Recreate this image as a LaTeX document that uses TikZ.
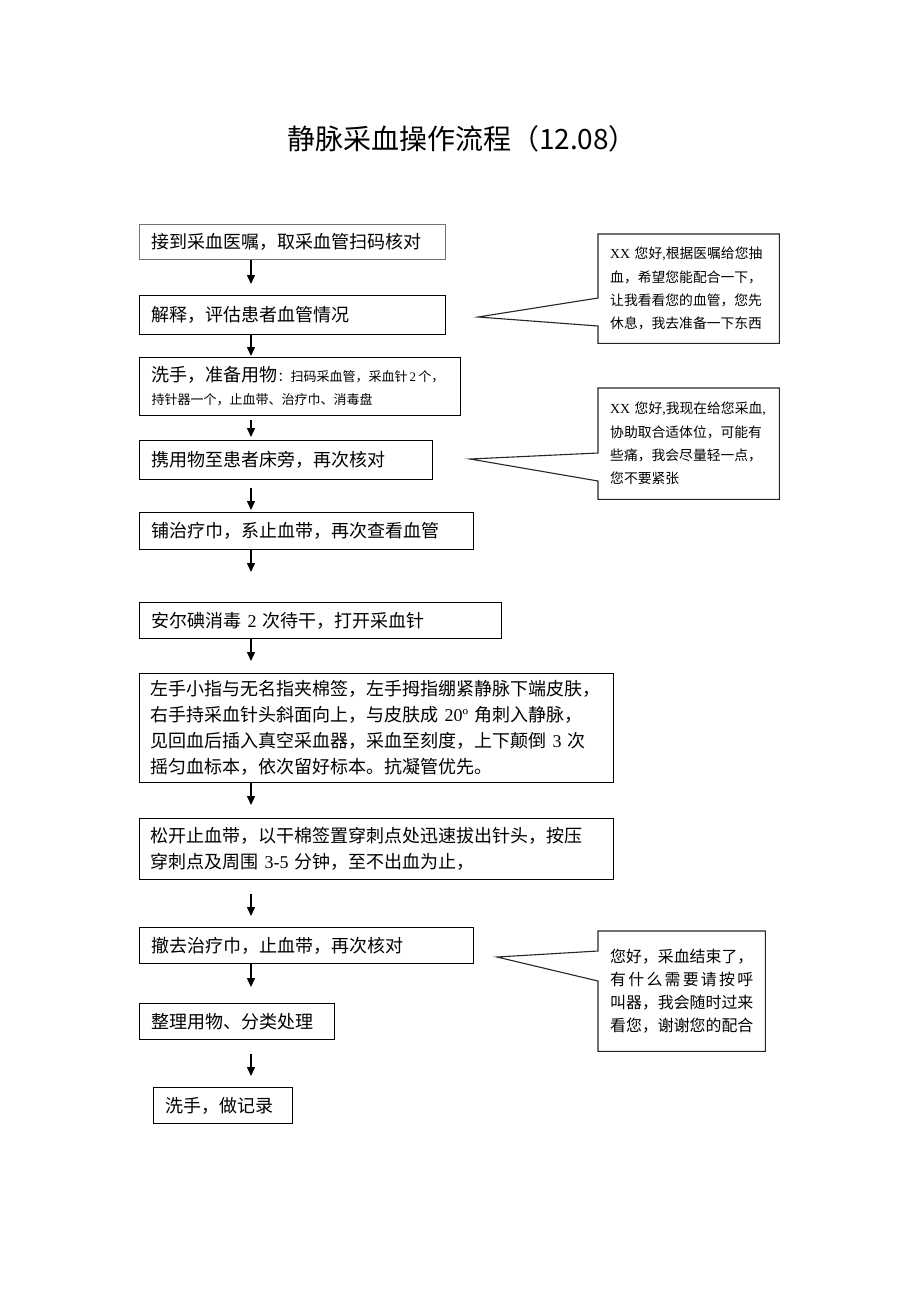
\documentclass[tikz,border=0pt]{standalone}
\usepackage{fontspec}
\setmainfont{Noto Sans CJK SC}
\newfontfamily\lat{Liberation Serif}
\usetikzlibrary{arrows.meta}

\begin{document}
\begin{tikzpicture}[x=1pt,y=-1pt,
    stepbox/.style={draw, line width=1.1pt, anchor=north west, inner xsep=12pt,
      inner ysep=0pt, align=left, font=\fontsize{18}{26}\selectfont},
    saybox/.style={anchor=north west, inner xsep=12pt, inner ysep=0pt, align=left,
      font=\fontsize{13.8}{23.3}\selectfont},
    say/.style={draw=black!85, line width=1.1pt},
    arr/.style={line width=1.4pt, -{Triangle[length=9pt,width=8pt]}}]
    \useasboundingbox (0,0) rectangle (920,1302);

    \node (title) at (462,139) {\fontsize{28}{30}\selectfont 静脉采血操作流程（12.08）};

    \node[stepbox, draw=black!55, line width=0.7pt, text width=282pt, minimum height=35pt] (n1) at (139,224)
        {接到采血医嘱，取采血管扫码核对};
    \node[stepbox, text width=282pt, minimum height=39pt] (n2) at (139,295)
        {解释，评估患者血管情况};
    \node[stepbox, text width=297pt, minimum height=58pt, font=\fontsize{18}{23}\selectfont] (n3) at (139,357)
        {\mbox{洗手，准备用物{\fontsize{13}{23}\selectfont ：扫码采血管，采血针\,{\lat 2}\,个，}}\\
         {\fontsize{13}{23}\selectfont 持针器一个，止血带、治疗巾、消毒盘}};
    \node[stepbox, text width=269pt, minimum height=39pt] (n4) at (139,440)
        {携用物至患者床旁，再次核对};
    \node[stepbox, text width=310pt, minimum height=37pt] (n5) at (139,512)
        {铺治疗巾，系止血带，再次查看血管};
    \node[stepbox, text width=338pt, minimum height=36pt] (n6) at (139,602)
        {安尔碘消毒 {\lat 2} 次待干，打开采血针};
    \node[stepbox, text width=452pt, inner xsep=11pt, minimum height=109pt] (n7) at (139,673)
        {左手小指与无名指夹棉签，左手拇指绷紧静脉下端皮肤，\\
         右手持采血针头斜面向上，与皮肤成 {\lat 20º} 角刺入静脉，\\
         见回血后插入真空采血器，采血至刻度，上下颠倒 {\lat 3} 次\\
         摇匀血标本，依次留好标本。抗凝管优先。};
    \node[stepbox, text width=452pt, inner xsep=11pt, minimum height=61pt] (n8) at (139,818)
        {松开止血带，以干棉签置穿刺点处迅速拔出针头，按压\\
         穿刺点及周围 {\lat 3-5} 分钟，至不出血为止，};
    \node[stepbox, text width=310pt, minimum height=36pt] (n9) at (139,927)
        {撤去治疗巾，止血带，再次核对};
    \node[stepbox, text width=171pt, minimum height=36pt] (n10) at (139,1003)
        {整理用物、分类处理};
    \node[stepbox, text width=115pt, minimum height=36pt] (n11) at (153,1087)
        {洗手，做记录};

    \coordinate (ax) at (251,0);
    \foreach \na/\nb/\gs/\ge in {n1/n2/0/11, n2/n3/0/1, n3/n4/4/3, n4/n5/8/2, n5/n6/0/30,
        n6/n7/0/12, n7/n8/0/13, n8/n9/14/11, n9/n10/0/16, n10/n11/14/11}
        \draw[arr] ([yshift=-\gs pt]\na.south -| ax) -- ([yshift=\ge pt]\nb.north -| ax);

    \node[saybox, text width=157pt, minimum height=109pt] (cA) at (598,234)
        {{\lat XX} 您好{\lat ,}根据医嘱给您抽\\血，希望您能配合一下，\\让我看看您的血管，您先\\休息，我去准备一下东西};
    \coordinate (tipA) at (478,317);
    \draw[say] (cA.north west) -- (cA.north east) -- (cA.south east) -- (cA.south west)
        -- ([yshift=-92pt]cA.north west) -- (tipA) -- ([yshift=-64pt]cA.north west) -- cycle;

    \node[saybox, text width=157pt, minimum height=111pt] (cB) at (598,388)
        {{\lat XX} 您好{\lat ,}我现在给您采血{\lat ,}\\协助取合适体位，可能有\\些痛，我会尽量轻一点，\\您不要紧张};
    \coordinate (tipB) at (470,459);
    \draw[say] (cB.north west) -- (cB.north east) -- (cB.south east) -- (cB.south west)
        -- ([yshift=-93pt]cB.north west) -- (tipB) -- ([yshift=-65pt]cB.north west) -- cycle;

    \node[saybox, text width=143pt, minimum height=120pt, font=\fontsize{15.9}{23}\selectfont] (cC) at (598,931)
        {您好，采血结束了，\\有\hfill 什\hfill 么\hfill 需\hfill 要\hfill 请\hfill 按\hfill 呼\\叫器，我会随时过来\\看您，谢谢您的配合};
    \coordinate (tipC) at (497,957);
    \draw[say] (cC.north west) -- (cC.north east) -- (cC.south east) -- (cC.south west)
        -- ([yshift=-50pt]cC.north west) -- (tipC) -- ([yshift=-20pt]cC.north west) -- cycle;
\end{tikzpicture}
\end{document}
